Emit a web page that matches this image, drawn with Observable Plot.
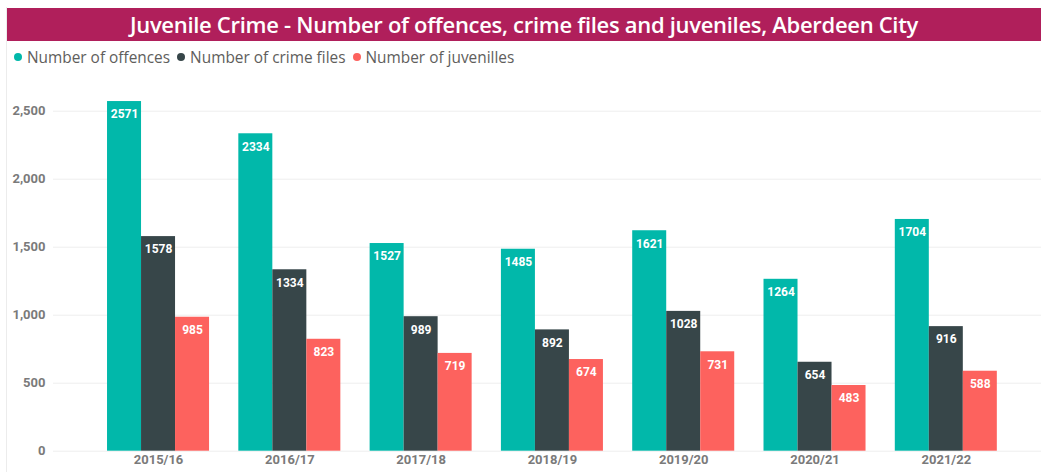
<!DOCTYPE html>
<html>
<head>
<meta charset="utf-8">
<script src="https://cdn.jsdelivr.net/npm/d3@7"></script>
<script src="https://cdn.jsdelivr.net/npm/@observablehq/plot@0.6"></script>
<style>
  html, body { margin: 0; padding: 0; background: #fff; width: 1041px; height: 472px; overflow: hidden; }
  #wrap { position: relative; width: 1041px; height: 472px; }
  #border { position: absolute; left: 6px; top: 7px; bottom: 0; width: 1px; background: #ececec; }
  #title { position: absolute; left: 7px; right: 0; top: 7.5px; height: 33.5px; background: #B01F5B;
    color: #fff; font-family: "Open Sans", sans-serif; font-weight: 600; font-size: 22px;
    display: flex; align-items: center; justify-content: center; letter-spacing: -0.3px; }
  #legend { position: absolute; left: 14px; top: 47px; height: 20px; display: flex; align-items: center;
    font-family: "Open Sans", sans-serif; font-size: 15.4px; color: #605E5C; }
  #legend .item { display: flex; align-items: center; margin-right: 7px; }
  #legend .dot { width: 8px; height: 8px; border-radius: 50%; margin-right: 5px; }
  #chart { position: absolute; left: 0; top: 70px; }
</style>
</head>
<body>
<div id="wrap">
  <div id="border"></div>
  <div id="title">Juvenile Crime - Number of offences, crime files and juveniles, Aberdeen City</div>
  <div id="legend"></div>
  <div id="chart"></div>
</div>
<script>
const years = ["2015/16", "2016/17", "2017/18", "2018/19", "2019/20", "2020/21", "2021/22"];
const seriesNames = ["Number of offences", "Number of crime files", "Number of juvenilles"];
const offences = [2571, 2334, 1527, 1485, 1621, 1264, 1704];
const crimeFiles = [1578, 1334, 989, 892, 1028, 654, 916];
const juveniles = [985, 823, 719, 674, 731, 483, 588];
const colors = ["#01B8AA", "#374649", "#FD625E"];
const yTicks = [0, 500, 1000, 1500, 2000, 2500];

const seriesValues = [offences, crimeFiles, juveniles];
const groupWidth = 0.777;
const barW = groupWidth / 3;

const rows = [];
years.forEach((yr, i) => {
  seriesValues.forEach((vals, k) => {
    const x1 = i - groupWidth / 2 + k * barW;
    rows.push({year: yr, idx: i, series: seriesNames[k], value: vals[i], x1, x2: x1 + barW, xc: x1 + barW / 2});
  });
});

// legend
const legend = document.getElementById("legend");
seriesNames.forEach((n, k) => {
  const it = document.createElement("div");
  it.className = "item";
  it.innerHTML = `<span class="dot" style="background:${colors[k]}"></span><span>${n}</span>`;
  legend.appendChild(it);
});

const tickFont = "Roboto, sans-serif";
const plot = Plot.plot({
  width: 1041,
  height: 402,
  marginLeft: 53,
  marginRight: 0,
  marginTop: 40.7,
  marginBottom: 21.3,
  style: {background: "transparent", fontFamily: tickFont},
  x: {type: "linear", domain: [-0.8, 6.725], axis: null, label: null},
  y: {domain: [0, 2500], axis: null, label: null},
  color: {domain: seriesNames, range: colors},
  marks: [
    Plot.ruleY(yTicks, {stroke: "#000", strokeOpacity: 0.07}),
    Plot.rectY(rows, {x1: "x1", x2: "x2", y1: 0, y2: "value", fill: "series"}),
    Plot.text(rows, {x: "xc", y: "value", text: d => String(d.value), dy: 13, fill: "#fff",
      fontWeight: "bold", fontSize: 12, fontFamily: tickFont}),
    Plot.axisY(yTicks, {tickSize: 0, tickPadding: 8, tickFormat: d3.format(","), fontWeight: "bold",
      fontSize: 13, fill: "#7a7a7a", fontFamily: tickFont, label: null}),
    Plot.axisX(d3.range(years.length), {tickSize: 0, tickPadding: 4, tickFormat: i => years[i],
      fontWeight: "bold", fontSize: 13, fill: "#7a7a7a", fontFamily: tickFont, anchor: "bottom", label: null})
  ]
});
document.getElementById("chart").appendChild(plot);
</script>
</body>
</html>
